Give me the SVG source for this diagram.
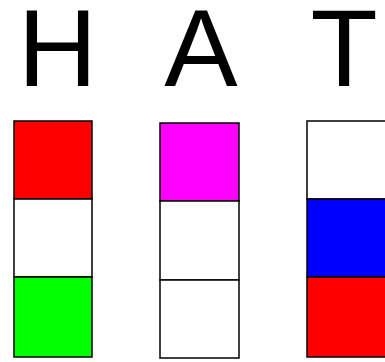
<svg xmlns="http://www.w3.org/2000/svg" width="385" height="362" viewBox="0 0 385 362">
<style>
.l{font-family:"Liberation Sans",Arial,sans-serif;font-size:110px;fill:#000;text-anchor:middle}
.c{stroke:#000;stroke-width:1.5}
</style>
<rect width="385" height="362" fill="#fff"/>
<g id="H">
<text class="l" x="57.5" y="86">H</text>
<rect class="c" x="14" y="121" width="78" height="78" fill="#ff0000"/>
<rect class="c" x="14" y="199" width="78" height="78" fill="#ffffff"/>
<rect class="c" x="14" y="277" width="78" height="80" fill="#00ff00"/>
</g>
<g id="A">
<text class="l" x="201" y="86">A</text>
<rect class="c" x="160" y="123" width="79" height="78" fill="#ff00ff"/>
<rect class="c" x="160" y="201" width="79" height="79" fill="#ffffff"/>
<rect class="c" x="160" y="280" width="79" height="78" fill="#ffffff"/>
</g>
<g id="T">
<text class="l" x="344" y="86">T</text>
<rect class="c" x="307" y="121" width="80" height="78" fill="#ffffff"/>
<rect class="c" x="307" y="199" width="80" height="78" fill="#0000ff"/>
<rect class="c" x="307" y="277" width="80" height="80" fill="#ff0000"/>
</g>
</svg>
